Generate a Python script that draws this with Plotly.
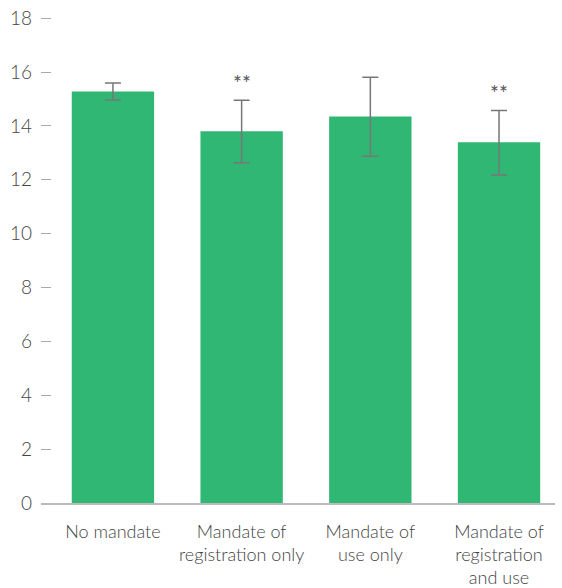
import plotly.graph_objects as go

categories = ["No mandate", "Mandate of<br>registration only", "Mandate of<br>use only",
              "Mandate of<br>registration<br>and use"]
values = [15.28, 13.80, 14.35, 13.39]
err_plus = [0.31, 1.15, 1.46, 1.18]
err_minus = [0.32, 1.17, 1.48, 1.21]
stars = ["", "**", "", "**"]
y_ticks = [0, 2, 4, 6, 8, 10, 12, 14, 16, 18]

GREEN = "#31b774"
GREY_TXT = "#444444"
FONT = "Lato"

fig = go.Figure(go.Bar(
    x=list(range(len(categories))),
    y=values,
    width=0.64,
    marker=dict(color=GREEN, line=dict(width=0)),
    error_y=dict(type="data", symmetric=False, array=err_plus, arrayminus=err_minus,
                 color="#777777", thickness=1.5, width=8),
))

for i, s in enumerate(stars):
    if s:
        fig.add_annotation(x=i, y=values[i] + err_plus[i], text=s, showarrow=False,
                           yshift=18, font=dict(family=FONT, size=21, color="#555555", weight=400))

fig.update_layout(
    width=562, height=588,
    margin=dict(l=41, r=7, t=16, b=85),
    plot_bgcolor="white", paper_bgcolor="white",
    showlegend=False,
    font=dict(family=FONT, size=17, color=GREY_TXT, weight=300),
    xaxis=dict(
        tickmode="array", tickvals=list(range(len(categories))), ticktext=categories,
        range=[-0.559, 3.435], showgrid=False, zeroline=False, automargin=False,
        showline=True, linecolor="#bbbbbb", linewidth=2,
        ticks="", tickfont=dict(size=18, color=GREY_TXT, weight=300),
        ticklabelstandoff=11,
    ),
    yaxis=dict(
        range=[0, 18.08], tickvals=y_ticks, showgrid=False, zeroline=False, automargin=False,
        showline=False, ticks="inside", ticklen=10, tickwidth=1, tickcolor="#aaaaaa",
        tickfont=dict(size=19, color=GREY_TXT, weight=300), ticklabelstandoff=8,
    ),
)

fig.write_html("out.html")
